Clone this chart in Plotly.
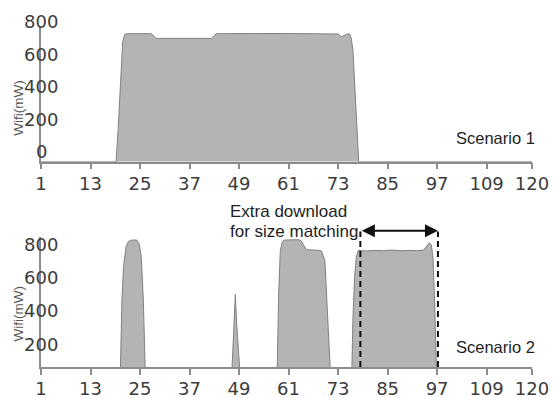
import plotly.graph_objects as go

# Scenario 1: WiFi power draw over time (s)
s1_time = [1, 19.2, 19.7, 20.1, 20.5, 20.8, 21.3, 22.0, 27.7, 28.3, 28.9, 42.3, 42.9, 43.5,
           60.0, 66.0, 73.0, 73.8, 74.6, 75.3, 75.8, 76.2, 76.6, 77.2, 77.6, 78.0, 120]
s1_wifi = [0, 0, 200, 380, 600, 740, 785, 789, 789, 775, 760, 760, 775, 789,
           790, 787, 787, 770, 778, 788, 787, 760, 688, 380, 180, 0, 0]

# Scenario 2: WiFi power draw over time (s)
s2_time = [1, 20.2, 20.6, 21.0, 21.6, 22.2, 23.0, 24.2, 24.8, 25.3, 25.8, 26.3,
           47.2, 47.8, 48.1, 48.4, 49.3,
           58.2, 58.6, 59.0, 59.5, 60.0, 63.5, 64.1, 64.7, 65.3, 68.5, 69.0, 69.8, 70.5, 71.2,
           76.3, 76.6, 77.0, 77.4, 77.9, 80.0, 82.0, 84.0, 86.0, 88.0, 90.0, 92.0, 93.8,
           94.5, 95.1, 95.6, 96.0, 96.4, 96.9, 120]
s2_wifi = [0, 0, 450, 664, 784, 815, 824, 824, 800, 724, 464, 0,
           0, 330, 498, 330, 0,
           0, 500, 760, 815, 824, 826, 818, 790, 766, 762, 758, 700, 350, 0,
           0, 350, 600, 720, 762, 758, 762, 760, 764, 760, 762, 760, 764,
           785, 808, 795, 720, 450, 0, 0]

x_ticks = [1, 13, 25, 37, 49, 61, 73, 85, 97, 109, 120]
s1_yticks = [0, 200, 400, 600, 800]
s2_yticks = [200, 400, 600, 800]
extra_start, extra_end = 78.4, 97.2
note_lines = ["Extra download", "for size matching"]

FILL = "#b4b4b4"
EDGE = "#808080"
AXIS = "#8c8c8c"
TICK_FONT = dict(family="DejaVu Sans", size=18, color="#3c3c3c")
TEXT_FONT = dict(family="Liberation Sans, Arial", size=16.5, color="#1e1e1e")
NOTE_FONT = dict(family="Liberation Sans, Arial", size=17, color="#1e1e1e")

fig = go.Figure()
fig.add_trace(go.Scatter(x=s1_time, y=s1_wifi, mode="lines", fill="tozeroy",
                         fillcolor=FILL, line=dict(color=EDGE, width=1),
                         xaxis="x", yaxis="y", showlegend=False, hoverinfo="skip"))
fig.add_trace(go.Scatter(x=s2_time, y=s2_wifi, mode="lines", fill="tozeroy",
                         fillcolor=FILL, line=dict(color=EDGE, width=1),
                         xaxis="x2", yaxis="y2", showlegend=False, hoverinfo="skip"))

xa = dict(range=[1, 120], tickmode="array", tickvals=x_ticks,
          ticktext=[str(v) for v in x_ticks], showgrid=False, zeroline=False,
          showline=True, linecolor=AXIS, linewidth=1.5, ticks="outside",
          ticklen=6, tickwidth=1.5, tickcolor=AXIS, tickfont=TICK_FONT,
          ticklabelstandoff=-1, automargin=False)
ya = dict(showgrid=False, zeroline=False, showline=True, linecolor=AXIS,
          linewidth=1.5, ticks="", showticklabels=False, automargin=False)

fig.update_layout(
    width=553, height=398,
    margin=dict(l=41, r=21, t=27, b=31, autoexpand=False),
    paper_bgcolor="white", plot_bgcolor="white",
    xaxis=dict(xa, domain=[0, 1], anchor="y"),
    yaxis=dict(ya, domain=[0.6038, 1], range=[0, 830], anchor="x"),
    xaxis2=dict(xa, domain=[0, 1], anchor="y2"),
    yaxis2=dict(ya, domain=[0, 0.3832], range=[62, 844], anchor="x2"),
)

# y tick labels, centred over the axis line
for v in s1_yticks:
    fig.add_annotation(x=0, xref="x domain", y=v, yref="y", text=str(v),
                       showarrow=False, xanchor="center", yanchor="middle",
                       yshift=10, font=TICK_FONT)
for v in s2_yticks:
    fig.add_annotation(x=0, xref="x2 domain", y=v, yref="y2", text=str(v),
                       showarrow=False, xanchor="center", yanchor="middle",
                       font=TICK_FONT)

# axis titles
title_font = dict(family="Liberation Sans, Arial", size=13.5, color="#555555")
fig.add_annotation(x=-0.045, xref="x domain", y=0.4, yref="y domain", text="Wifi(mW)",
                   textangle=-90, showarrow=False, xanchor="center", yanchor="middle",
                   font=title_font)
fig.add_annotation(x=-0.045, xref="x2 domain", y=0.41, yref="y2 domain", text="Wifi(mW)",
                   textangle=-90, showarrow=False, xanchor="center", yanchor="middle",
                   font=title_font)

# scenario labels
fig.add_annotation(x=120, xref="x", y=146, yref="y", text="Scenario 1",
                   showarrow=False, xanchor="right", yanchor="middle", xshift=5,
                   font=TEXT_FONT)
fig.add_annotation(x=120, xref="x2", y=180, yref="y2", text="Scenario 2",
                   showarrow=False, xanchor="right", yanchor="middle", xshift=5,
                   font=TEXT_FONT)

# extra-download span in scenario 2
for xv in (extra_start, extra_end):
    fig.add_shape(type="line", xref="x2", yref="y2 domain", x0=xv, x1=xv,
                  y0=0, y1=1.04, line=dict(color="#111111", width=2, dash="6px,4px"))
fig.add_annotation(x=extra_end, y=1.045, xref="x2", yref="y2 domain",
                   ax=extra_start, ay=1.045, axref="x2", ayref="y2 domain",
                   text="", showarrow=True, arrowhead=2, arrowside="end+start",
                   arrowsize=1.3, arrowwidth=2, arrowcolor="#111111")
for i, line in enumerate(note_lines):
    fig.add_annotation(x=46.25, xref="x2", y=1.0, yref="y2 domain", text=line,
                       showarrow=False, xanchor="left", yanchor="middle",
                       yshift=25 - 20 * i, font=NOTE_FONT)

fig.write_html("out.html")
